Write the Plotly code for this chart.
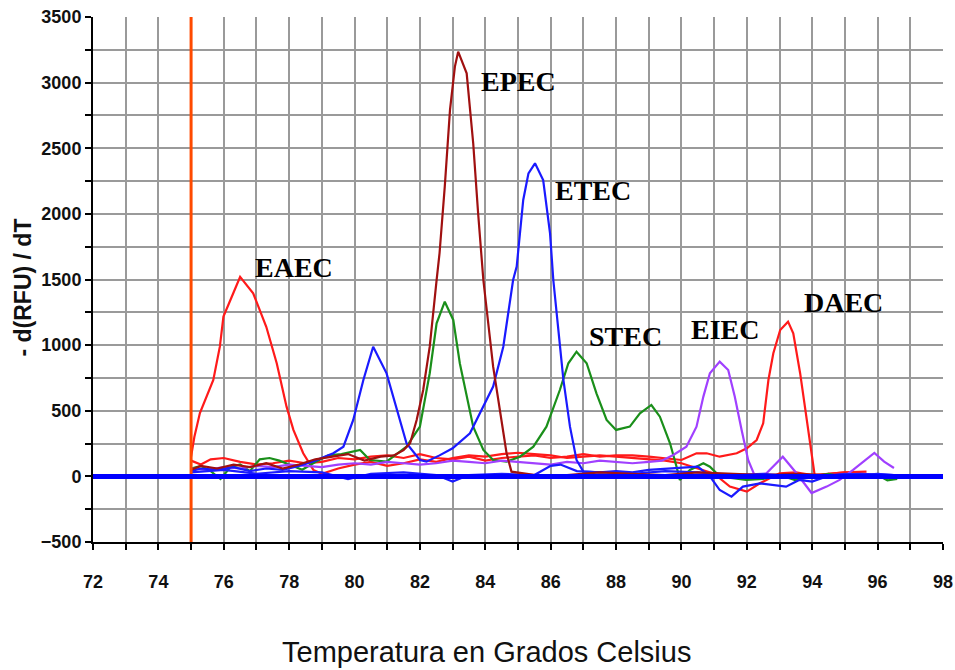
import plotly.graph_objects as go

# ---------------- data ----------------
eaec_x = [75.0, 75.1, 75.27, 75.48, 75.68, 75.88, 75.99, 76.29, 76.5, 76.9, 77.3, 77.62, 77.92, 78.13,
          78.43, 78.74, 79.0, 79.5, 80.0, 80.5, 81.0, 81.5, 82.0, 82.5, 83.0, 83.5, 84.0, 84.5, 85.0,
          85.5, 86.0, 86.5, 87.0, 87.5, 88.0, 88.5, 89.0, 89.5, 90.0, 90.5, 91.0, 91.48, 92.0, 92.4,
          93.0, 93.5, 94.0, 94.5, 95.0, 95.5]
eaec_y = [150, 300, 483, 620, 735, 988, 1217, 1395, 1520, 1395, 1140, 862, 531, 354,
          176, 49, 20, 60, 90, 110, 80, 100, 130, 110, 140, 160, 150, 170, 180,
          170, 160, 140, 150, 160, 150, 140, 130, 120, 100, 60, 20, -78, -116, -53,
          24, 30, 10, 20, 30, 20]

daec_x = [75.0, 75.3, 75.6, 76.0, 76.5, 77.0, 77.5, 78.0, 78.5, 79.0, 79.5, 80.0, 80.5, 81.0, 81.5,
          82.0, 82.5, 83.0, 83.5, 84.0, 84.5, 85.0, 85.5, 86.0, 86.5, 87.0, 87.5, 88.0, 88.5, 89.0,
          89.5, 90.0, 90.46, 90.77, 91.17, 91.69, 92.0, 92.3, 92.5, 92.66, 92.81, 93.02, 93.26,
          93.42, 93.63, 93.83, 93.98, 94.08, 94.5, 95.0, 95.66]
daec_y = [120, 90, 130, 140, 110, 90, 100, 120, 100, 110, 140, 130, 150, 160, 140,
          170, 140, 130, 150, 120, 140, 150, 160, 140, 150, 170, 150, 160, 160, 150,
          140, 125, 176, 176, 150, 176, 214, 277, 404, 734, 938, 1115, 1179,
          1090, 786, 430, 176, 0, 20, 30, 36]

epec_x = [75.0, 75.3, 75.8, 76.3, 76.8, 77.3, 77.8, 78.3, 78.8, 79.3, 79.8, 80.3, 80.8, 81.2, 81.5,
          81.7, 81.9, 82.1, 82.3, 82.51, 82.6, 82.76, 82.92, 83.07, 83.17, 83.43, 83.63, 83.78,
          83.94, 84.24, 84.45, 84.65, 84.8, 85.2, 85.8, 86.5, 87.5, 88.5, 89.5, 90.5, 91.5, 92.5,
          93.5, 94.5]
epec_y = [50, 80, 60, 90, 70, 100, 60, 90, 130, 150, 170, 120, 150, 160, 200,
          252, 430, 658, 988, 1496, 1700, 2207, 2792, 3122, 3236, 3071, 2538, 2005,
          1496, 836, 481, 176, 36, 20, 0, 10, 30, 20, 10, 30, 20, 10,
          20, 10]

etec_x = [75.0, 75.3, 75.8, 76.3, 76.8, 77.3, 77.8, 78.3, 78.8, 79.35, 79.66, 79.96, 80.27, 80.57,
          80.98, 81.29, 81.59, 82.0, 82.2, 82.6, 83.0, 83.53, 83.94, 84.24, 84.55, 84.85, 84.96,
          85.16, 85.32, 85.52, 85.77, 85.98, 86.08, 86.18, 86.39, 86.59, 86.79, 87.0, 87.5, 88.0,
          88.5, 89.0, 89.75, 90.5, 90.87, 91.17, 91.53, 91.88, 92.4, 92.81, 93.2, 93.6, 94.0,
          94.44, 95.0, 95.5, 96.0, 96.5]
etec_y = [40, 60, 50, 70, 40, 60, 50, 80, 120, 176, 226, 430, 734, 988,
          785, 506, 252, 125, 112, 160, 214, 328, 531, 684, 988, 1496, 1598,
          2106, 2309, 2385, 2258, 1852, 1496, 1243, 734, 379, 125, 36, 30, 40,
          30, 50, 62, 74, 0, -104, -154, -78, -53, -65, -78, -27, -40,
          0, 20, 10, 20, 10]

blue2_x = [75.0, 76.0, 77.0, 78.0, 79.0, 79.8, 80.5, 81.5, 82.5, 83.0, 83.5, 84.5, 85.5, 86.0,
           86.3, 86.8, 87.5, 88.5, 89.5, 90.5, 91.5, 92.5, 93.5, 94.5, 95.5, 96.5]
blue2_y = [30, 50, 20, 40, 30, -20, 20, 30, 10, -40, 10, 20, 10, 80,
           90, 40, 30, 20, 40, 30, 10, 20, 0, 10, 20, 10]

stec_x = [75.0, 75.3, 75.6, 75.9, 76.2, 76.5, 76.8, 77.1, 77.4, 77.7, 78.0, 78.4, 78.8, 79.2, 79.6,
          80.17, 80.47, 80.98, 81.59, 82.0, 82.3, 82.51, 82.76, 83.02, 83.22, 83.43, 83.63, 83.94,
          84.24, 84.65, 85.06, 85.47, 85.87, 86.28, 86.54, 86.79, 87.1, 87.4, 87.71, 88.0, 88.42,
          88.73, 89.08, 89.34, 89.65, 89.85, 89.95, 90.26, 90.67, 90.87, 91.17, 91.98, 92.5, 93.0,
          93.5, 94.0, 94.5, 95.0, 95.5, 96.0, 96.3, 96.6]
stec_y = [60, 80, 40, -20, 70, 90, 40, 130, 140, 120, 90, 50, 110, 160, 170,
          201, 125, 112, 226, 379, 786, 1166, 1331, 1192, 862, 608, 379, 201,
          125, 112, 150, 226, 379, 658, 862, 950, 862, 633, 430, 354, 379,
          481, 544, 455, 252, 74, -27, 49, 100, 74, 0, -27, -20, 10,
          -30, 0, 20, -10, 0, 10, -30, -20]

eiec_x = [75.0, 75.5, 76.0, 76.5, 77.0, 77.5, 78.0, 78.5, 79.0, 79.5, 80.0, 80.5, 81.0, 81.5, 82.0,
          82.5, 83.0, 83.5, 84.0, 84.5, 85.0, 85.5, 86.0, 86.5, 87.0, 87.5, 88.0, 88.5, 89.0, 89.4,
          89.75, 90.15, 90.46, 90.67, 90.87, 91.17, 91.43, 91.63, 91.84, 92.04, 92.25, 92.6, 93.1,
          93.52, 93.98, 94.44, 94.84, 95.25, 95.9, 96.2, 96.5]
eiec_y = [60, 50, 70, 60, 80, 70, 90, 80, 70, 90, 100, 90, 110, 100, 90,
          100, 120, 110, 100, 120, 110, 100, 90, 110, 100, 120, 110, 100, 110, 120,
          163, 226, 379, 608, 786, 874, 810, 608, 354, 125, 0, 24, 150,
          24, -127, -78, -27, 49, 178, 112, 64]

label_text = ["EAEC", "EPEC", "ETEC", "STEC", "EIEC", "DAEC"]
label_x = [78.15, 85.03, 87.29, 88.3, 91.33, 94.95]
label_y = [1588, 3009, 2181, 1062, 1119, 1325]

x_tick_vals = [72, 74, 76, 78, 80, 82, 84, 86, 88, 90, 92, 94, 96, 98]
y_tick_vals = [-500, 0, 500, 1000, 1500, 2000, 2500, 3000, 3500]
threshold_x = 75

# ---------------- figure ----------------
fig = go.Figure()

series = [
    (eaec_x, eaec_y, "#ff1a1a"),
    (daec_x, daec_y, "#ff1a1a"),
    (stec_x, stec_y, "#1a8f1a"),
    (eiec_x, eiec_y, "#a040ff"),
    (blue2_x, blue2_y, "#1a1aff"),
    (etec_x, etec_y, "#1a1aff"),
    (epec_x, epec_y, "#a01010"),
]
for xs, ys, col in series:
    fig.add_trace(go.Scatter(x=xs, y=ys, mode="lines",
                             line=dict(color=col, width=2.2), showlegend=False,
                             hoverinfo="skip"))

# threshold line and baseline
fig.add_shape(type="line", xref="x", yref="paper", x0=threshold_x, x1=threshold_x, y0=0, y1=1,
              line=dict(color="#ff4a00", width=3), layer="above")
fig.add_shape(type="line", xref="paper", yref="y", x0=0, x1=1, y0=0, y1=0,
              line=dict(color="#0000ff", width=5), layer="above")

for t, lx, ly in zip(label_text, label_x, label_y):
    fig.add_annotation(x=lx, y=ly, text="<b>" + t + "</b>", showarrow=False,
                       font=dict(family="Liberation Serif", size=28, color="#000000"),
                       xanchor="center", yanchor="middle")

# axis titles
fig.add_annotation(xref="paper", yref="paper", x=0.5, y=0, xshift=-32, yshift=-110,
                   text="Temperatura en Grados Celsius", showarrow=False,
                   font=dict(family="Liberation Sans", size=29, color="#111111"),
                   xanchor="center", yanchor="middle")
fig.add_annotation(xref="paper", yref="paper", x=0, y=0.5, xshift=-71, yshift=-8,
                   text="- d(RFU) / dT", showarrow=False, textangle=-90,
                   font=dict(family="Liberation Sans", size=23, color="#111111", weight="bold"),
                   xanchor="center", yanchor="middle")

grid_col = "#9a9a9a"
fig.update_xaxes(range=[72, 98], tickmode="array", tickvals=x_tick_vals, automargin=False,
                 showgrid=True, gridcolor=grid_col, gridwidth=2,
                 minor=dict(dtick=1, tick0=72, showgrid=True, gridcolor=grid_col, gridwidth=2,
                            ticks="outside", ticklen=6, tickcolor="#000", tickwidth=2),
                 showline=True, linecolor="#000000", linewidth=2,
                 ticks="outside", ticklen=6, tickcolor="#000", tickwidth=2,
                 ticklabelstandoff=16, zeroline=False,
                 tickfont=dict(family="Liberation Sans", size=18, color="#111111", weight="bold"))
fig.update_yaxes(range=[-500, 3500], tickmode="array", tickvals=y_tick_vals, automargin=False,
                 showgrid=True, gridcolor=grid_col, gridwidth=2,
                 minor=dict(dtick=250, tick0=0, showgrid=True, gridcolor=grid_col, gridwidth=2,
                            ticks="outside", ticklen=6, tickcolor="#000", tickwidth=2),
                 showline=True, linecolor="#000000", linewidth=2,
                 ticks="outside", ticklen=6, tickcolor="#000", tickwidth=2,
                 zeroline=False,
                 tickfont=dict(family="Liberation Sans", size=18, color="#111111", weight="bold"))

fig.update_layout(width=955, height=670,
                  margin=dict(l=93, r=12, t=17, b=128),
                  plot_bgcolor="white", paper_bgcolor="white")

fig.write_html("out.html")
